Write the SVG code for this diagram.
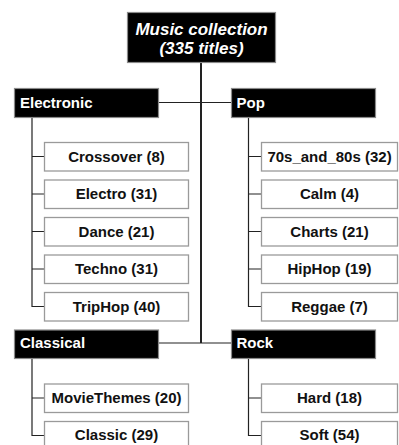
<svg xmlns="http://www.w3.org/2000/svg" width="399" height="445" viewBox="0 0 399 445">
<style>
.hdr{fill:#000;stroke:#8a8a8a;stroke-width:1.2}
.hdr-t{font-family:"Liberation Sans",Arial,sans-serif;font-weight:bold;font-size:15px;fill:#fff}
.root-t{font-family:"Liberation Sans",Arial,sans-serif;font-weight:bold;font-style:italic;font-size:17px;fill:#fff;text-anchor:middle}
.leaf{fill:#fff;stroke:#9a9a9a;stroke-width:1.3}
.leaf-t{font-family:"Liberation Sans",Arial,sans-serif;font-weight:bold;font-size:15px;fill:#111;text-anchor:middle}
.ln{fill:none;stroke:#222;stroke-width:1.2}
.trunk{fill:none;stroke:#222;stroke-width:2}
</style>
<rect width="399" height="445" fill="#fff"/>
<g id="connectors">
<path class="trunk" d="M201 62.5V343"/>
<path class="ln" d="M158.5 102.5H231.5M158.5 343H231.5"/>
<path class="ln" d="M32 117.5V306.5H44M32 156.5H44M32 194H44M32 231.5H44M32 269H44"/>
<path class="ln" d="M248.5 117.5V306.5H261M248.5 156.5H261M248.5 194H261M248.5 231.5H261M248.5 269H261"/>
<path class="ln" d="M32 358.5V435.5H44M32 398H44"/>
<path class="ln" d="M248.5 358.5V435.5H261M248.5 398H261"/>
</g>
<g id="root"><rect class="hdr" x="127.5" y="12.5" width="148" height="50"/><text class="root-t" x="201.5" y="34.5">Music collection</text><text class="root-t" x="201.5" y="54">(335 titles)</text></g>
<g id="electronic"><rect class="hdr" x="14.5" y="88.5" width="144" height="29"/><text class="hdr-t" x="20" y="107.5">Electronic</text></g>
<g id="pop"><rect class="hdr" x="231.5" y="88.5" width="144" height="29"/><text class="hdr-t" x="236.5" y="107.5">Pop</text></g>
<g id="classical"><rect class="hdr" x="14.5" y="330" width="144" height="28.5"/><text class="hdr-t" x="20" y="348">Classical</text></g>
<g id="rock"><rect class="hdr" x="231.5" y="330" width="144" height="28.5"/><text class="hdr-t" x="236.5" y="348">Rock</text></g>
<g id="crossover"><rect class="leaf" x="44.5" y="142.5" width="144" height="28.5"/><text class="leaf-t" x="116.5" y="161.5">Crossover (8)</text></g>
<g id="electro"><rect class="leaf" x="44.5" y="180" width="144" height="28.5"/><text class="leaf-t" x="116.5" y="199">Electro (31)</text></g>
<g id="dance"><rect class="leaf" x="44.5" y="217.5" width="144" height="28.5"/><text class="leaf-t" x="116.5" y="236.5">Dance (21)</text></g>
<g id="techno"><rect class="leaf" x="44.5" y="255" width="144" height="28.5"/><text class="leaf-t" x="116.5" y="274">Techno (31)</text></g>
<g id="triphop"><rect class="leaf" x="44.5" y="292.5" width="144" height="28.5"/><text class="leaf-t" x="116.5" y="311.5">TripHop (40)</text></g>
<g id="s70s"><rect class="leaf" x="261.5" y="142.5" width="136" height="28.5"/><text class="leaf-t" x="329.5" y="161.5">70s_and_80s (32)</text></g>
<g id="calm"><rect class="leaf" x="261.5" y="180" width="136" height="28.5"/><text class="leaf-t" x="329.5" y="199">Calm (4)</text></g>
<g id="charts"><rect class="leaf" x="261.5" y="217.5" width="136" height="28.5"/><text class="leaf-t" x="329.5" y="236.5">Charts (21)</text></g>
<g id="hiphop"><rect class="leaf" x="261.5" y="255" width="136" height="28.5"/><text class="leaf-t" x="329.5" y="274">HipHop (19)</text></g>
<g id="reggae"><rect class="leaf" x="261.5" y="292.5" width="136" height="28.5"/><text class="leaf-t" x="329.5" y="311.5">Reggae (7)</text></g>
<g id="moviethemes"><rect class="leaf" x="44.5" y="384" width="144" height="28.5"/><text class="leaf-t" x="116.5" y="403">MovieThemes (20)</text></g>
<g id="classic"><rect class="leaf" x="44.5" y="421.5" width="144" height="28.5"/><text class="leaf-t" x="116.5" y="440">Classic (29)</text></g>
<g id="hard"><rect class="leaf" x="261.5" y="384" width="136" height="28.5"/><text class="leaf-t" x="329.5" y="403">Hard (18)</text></g>
<g id="soft"><rect class="leaf" x="261.5" y="421.5" width="136" height="28.5"/><text class="leaf-t" x="329.5" y="440">Soft (54)</text></g>
</svg>
